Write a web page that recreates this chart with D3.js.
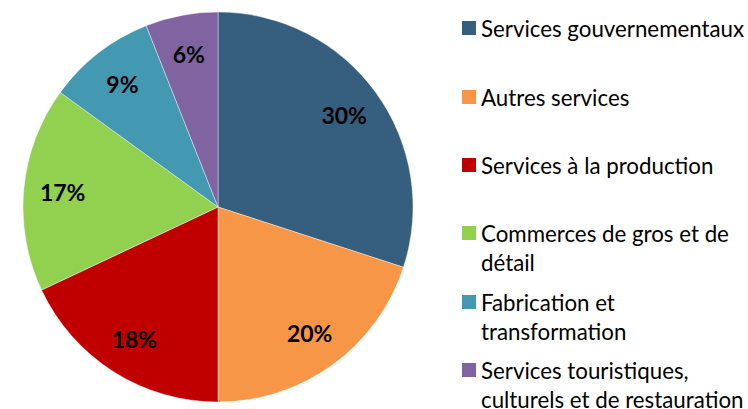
<!DOCTYPE html>
<html>
<head>
<meta charset="utf-8">
<script src="https://cdn.jsdelivr.net/npm/d3@7"></script>
<style>
  html, body { margin: 0; padding: 0; background: #fff; }
  svg { display: block; }
</style>
</head>
<body>
<svg id="chart" width="748" height="409"></svg>
<script>
// Sector shares (%)
const categories = [
  "Services gouvernementaux",
  "Autres services",
  "Services à la production",
  "Commerces de gros et de détail",
  "Fabrication et transformation",
  "Services touristiques, culturels et de restauration"
];
const values = [30, 20, 18, 17, 9, 6];
const colors = ["#365E7E", "#F79646", "#C00000", "#92D050", "#4399B1", "#8064A2"];
// Legend entries broken over lines as they are set
const legendLines = [
  ["Services gouvernementaux"],
  ["Autres services"],
  ["Services à la production"],
  ["Commerces de gros et de", "détail"],
  ["Fabrication et", "transformation"],
  ["Services touristiques,", "culturels et de restauration"]
];

const svg = d3.select("#chart");
const cx = 218, cy = 207, r = 195;
const font = "Lato, 'Open Sans', sans-serif";

const data = categories.map((c, i) => ({ name: c, value: values[i], color: colors[i] }));
const pie = d3.pie().value(d => d.value).sort(null);
const arc = d3.arc().innerRadius(0).outerRadius(r);
const labelArc = d3.arc().innerRadius(r * 0.8).outerRadius(r * 0.8);

const g = svg.append("g").attr("transform", `translate(${cx},${cy})`);
const arcs = pie(data);

g.selectAll("path.slice")
  .data(arcs)
  .join("path")
  .attr("class", "slice")
  .attr("d", arc)
  .attr("fill", d => d.data.color)
  .attr("stroke", "#ffffff")
  .attr("stroke-width", 0.4);

g.selectAll("text.pct")
  .data(arcs)
  .join("text")
  .attr("class", "pct")
  .attr("transform", d => `translate(${labelArc.centroid(d)})`)
  .attr("text-anchor", "middle")
  .attr("dominant-baseline", "central")
  .style("font-family", font)
  .style("font-weight", "bold")
  .style("font-size", "23px")
  .attr("fill", "#000")
  .text(d => d.data.value + "%");

// Legend
const legendX = 462, rowY = [28, 97, 165, 233, 302, 370], lineH = 29;
const lg = svg.append("g");
legendLines.forEach((lines, i) => {
  lg.append("rect")
    .attr("x", legendX).attr("y", rowY[i] - 7)
    .attr("width", 14).attr("height", 14)
    .attr("fill", colors[i]);
  const t = lg.append("text")
    .attr("x", legendX + 19)
    .attr("y", rowY[i])
    .attr("dominant-baseline", "central")
    .style("font-family", font)
    .style("font-size", "22.3px")
    .attr("fill", "#000");
  lines.forEach((ln, j) => {
    t.append("tspan").attr("x", legendX + 19).attr("y", rowY[i] + j * lineH).text(ln);
  });
});
</script>
</body>
</html>
